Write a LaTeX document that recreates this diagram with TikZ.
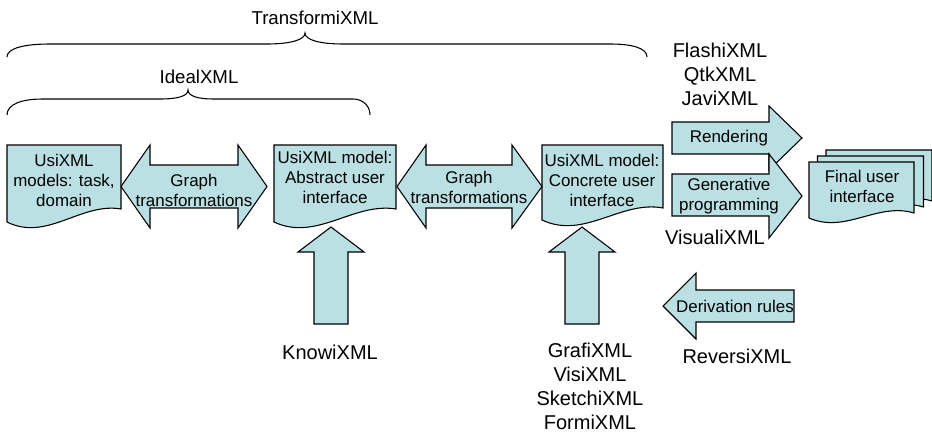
\documentclass[tikz,border=0pt]{standalone}
\usepackage{fontspec}
\setmainfont{Liberation Sans}
\usepackage{xcolor}
\usepackage{tikz}

\definecolor{paleblue}{RGB}{187,224,227}

\tikzset{
	shapefill/.style={draw=black, fill=paleblue, line width=0.8pt, line join=miter},
	lbl/.style={font=\fontsize{12.7}{15}\selectfont, align=center, inner sep=0pt},
	bracelbl/.style={font=\fontsize{14}{16}\selectfont, align=center, inner sep=0pt},
	toollist/.style={font=\fontsize{15}{18}\selectfont, align=center, inner sep=0pt},
	bracket/.style={draw=black, line width=0.8pt}
}

\begin{document}
\begin{tikzpicture}[x=0.75pt, y=-0.75pt]
		\useasboundingbox (0,0) rectangle (932,432);
		
		% document: left, top, right, bottom-left, wave, rise
		\def\docshape#1#2#3#4#5#6{%
			\draw [shapefill] (#1,#4) -- (#1,#2) -- (#3,#2) -- (#3,#4-#6)
				.. controls ({#1+0.65*(#3-#1)},#4-#5) and ({#1+0.35*(#3-#1)},#4+#5) .. (#1,#4) -- cycle;}
		
		% double arrow: left tip, left notch, right notch, right tip
		\def\dblarrow#1#2#3#4{%
			\draw [shapefill] (#1,186.5) -- (#2,145) -- (#2,165) -- (#3,165) -- (#3,145) -- (#4,186.5)
				-- (#3,228) -- (#3,208) -- (#2,208) -- (#2,228) -- cycle;}
		
		% up arrow: centre
		\def\uparrowshape#1{%
			\draw [shapefill] (#1,227) -- (#1+33,252) -- (#1+17,252) -- (#1+17,324)
				-- (#1-17,324) -- (#1-17,252) -- (#1-33,252) -- cycle;}
		
		% braces
		\coordinate (T1) at (7,57);
		\coordinate (T2) at (647,57);
		\coordinate (I1) at (7,115);
		\coordinate (I2) at (370,115);
		
		\draw [bracket] (T1) .. controls (7,48) and (25,44) .. (50,44) -- (267,44)
			.. controls (290,44) and (305,40) .. (305,33) .. controls (305,40) and (320,44) .. (343,44)
			-- (610,44) .. controls (632,44) and (647,48) .. (T2);
		\draw [bracket] (I1) .. controls (7,104) and (22,99) .. (43,99) -- (160,99)
			.. controls (178,99) and (188,96) .. (188,90) .. controls (188,96) and (198,99) .. (213,99)
			-- (353,99) .. controls (362,99) and (370,105) .. (I2);
		
		\node [bracelbl] (transformi) at (315,18) {TransformiXML};
		\node [bracelbl] (ideal) at (199,77) {IdealXML};
		
		% models
		\docshape{7}{145}{121}{222}{20}{13}
		\docshape{274}{145}{396}{222}{20}{13}
		\docshape{542}{145}{663}{220}{20}{12}
		
		\node [lbl] (taskdomain) at (64,180) {UsiXML\\models: task,\\domain};
		\node [lbl] (abstractui) at (335,177) {UsiXML model:\\Abstract user\\interface};
		\node [lbl] (concreteui) at (602,180) {UsiXML model:\\Concrete user\\interface};
		
		% transformations
		\dblarrow{121}{150}{238}{267}
		\dblarrow{397}{426}{512}{542}
		\node [lbl] (graph1) at (194,190) {Graph\\transformations};
		\node [lbl] (graph2) at (469,187) {Graph\\transformations};
		
		\uparrowshape{331}
		\uparrowshape{582}
		\node [toollist] (knowi) at (330,352) {KnowiXML};
		\node [toollist] (grafi) at (590,386) {GrafiXML\\VisiXML\\SketchiXML\\FormiXML};
		
		% rendering and generation
		\draw [shapefill] (672,122) -- (769,122) -- (769,106) -- (802,138) -- (769,170) -- (769,154) -- (672,154) -- cycle;
		\draw [shapefill] (672,174) -- (769,174) -- (769,154) -- (802,196) -- (769,238) -- (769,216) -- (672,216) -- cycle;
		\node [lbl] (rendering) at (729,138) {Rendering};
		\node [lbl] (generative) at (729,196) {Generative\\programming};
		\node [toollist] (flashi) at (720,74) {FlashiXML\\QtkXML\\JaviXML};
		\node [toollist] (visuali) at (715,237) {VisualiXML};
		
		% final user interface
		\docshape{826}{150}{932}{206}{16}{5}
		\docshape{817.5}{156}{923.5}{212}{16}{5}
		\docshape{809}{162}{914}{218}{16}{5}
		\node [lbl] (finalui) at (862,186) {Final user\\interface};
		
		% reverse engineering
		\draw [shapefill] (794,290) -- (696,290) -- (696,273) -- (663,306) -- (696,339) -- (696,322) -- (794,322) -- cycle;
		\node [lbl] (derivation) at (735,306) {Derivation rules};
		\node [toollist] (reversi) at (737,356) {ReversiXML};
	\end{tikzpicture}
\end{document}
